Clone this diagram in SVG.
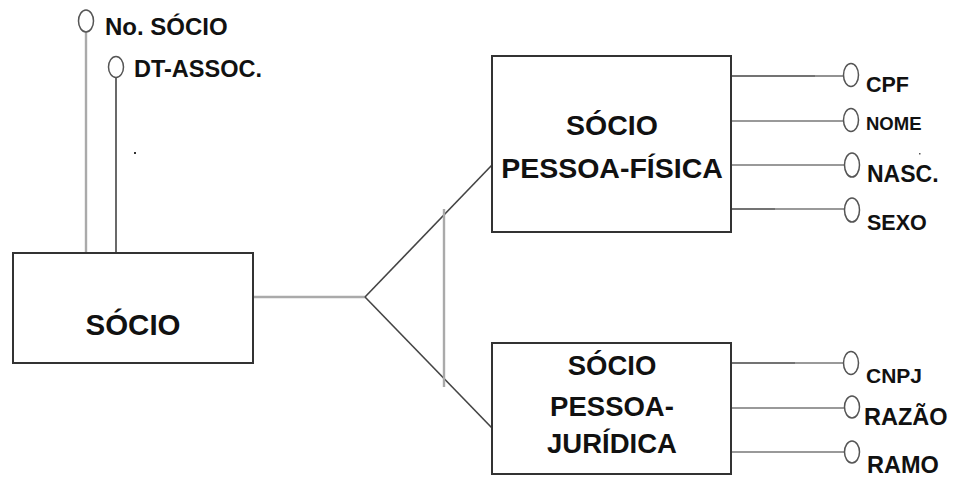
<svg xmlns="http://www.w3.org/2000/svg" width="958" height="477" viewBox="0 0 958 477">
<style>
.box{fill:#fff;stroke:#333;stroke-width:2}
.t{font-family:"Liberation Sans",Arial,sans-serif;font-weight:bold;fill:#111}
.c{text-anchor:middle}
.dk{stroke:#444;stroke-width:1.6;fill:none}
.lt{stroke:#aaa;stroke-width:2.4;fill:none}
.md{stroke:#777;stroke-width:1.6;fill:none}
.att{fill:#fff;stroke:#555;stroke-width:1.5}
</style>
<rect width="958" height="477" fill="#fff"/>
<g id="connectors">
<line class="lt" x1="86" y1="32" x2="86" y2="253"/>
<line class="dk" x1="116" y1="78" x2="116" y2="253"/>
<line class="lt" x1="253" y1="297" x2="365" y2="297"/>
<line class="dk" x1="365" y1="297" x2="492" y2="165"/>
<line class="dk" x1="365" y1="297" x2="492" y2="428"/>
<line class="lt" x1="444" y1="209" x2="444" y2="387"/>
<line class="dk" x1="731" y1="76" x2="815" y2="76"/><line class="md" x1="815" y1="76" x2="843" y2="76"/>
<line class="md" x1="731" y1="121" x2="843" y2="121"/>
<line class="md" x1="731" y1="165" x2="844" y2="165"/>
<line class="dk" x1="731" y1="209" x2="775" y2="209"/><line class="md" x1="775" y1="209" x2="844" y2="209"/>
<line class="dk" x1="731" y1="363" x2="795" y2="363"/><line class="md" x1="795" y1="363" x2="843" y2="363"/>
<line class="md" x1="731" y1="408" x2="844" y2="408"/>
<line class="md" x1="731" y1="452" x2="844" y2="452"/>
</g>
<g id="socio">
<rect class="box" x="13" y="253" width="240" height="110"/>
<text class="t c" x="133" y="335" font-size="29.5">SÓCIO</text>
</g>
<g id="socio-pf">
<rect class="box" x="492" y="56" width="239" height="176"/>
<text class="t c" x="612" y="135" font-size="28.5">SÓCIO</text>
<text class="t c" x="612" y="178" font-size="28.5">PESSOA-FÍSICA</text>
</g>
<g id="socio-pj">
<rect class="box" x="492" y="343" width="239" height="131"/>
<text class="t c" x="612" y="375" font-size="27.5">SÓCIO</text>
<text class="t c" x="612" y="416" font-size="27.5">PESSOA-</text>
<text class="t c" x="612" y="453" font-size="27.5">JURÍDICA</text>
</g>
<g id="attr-no-socio">
<ellipse class="att" cx="86" cy="21" rx="7.5" ry="11"/>
<text class="t" x="105" y="35" font-size="24">No. SÓCIO</text>
</g>
<g id="attr-dt-assoc">
<ellipse class="att" cx="116" cy="67" rx="7.5" ry="10.5"/>
<text class="t" x="134" y="77" font-size="23.5">DT-ASSOC.</text>
</g>
<g id="attr-cpf">
<ellipse class="att" cx="851" cy="75" rx="7.5" ry="11.5"/>
<text class="t" x="866" y="92" font-size="21.5">CPF</text>
</g>
<g id="attr-nome">
<ellipse class="att" cx="851" cy="120" rx="7.5" ry="11.5"/>
<text class="t" x="866" y="130" font-size="18.5">NOME</text>
</g>
<g id="attr-nasc">
<ellipse class="att" cx="852" cy="165" rx="7.5" ry="12"/>
<text class="t" x="867" y="182" font-size="23">NASC.</text>
</g>
<g id="attr-sexo">
<ellipse class="att" cx="852" cy="210" rx="7.5" ry="12"/>
<text class="t" x="867" y="230" font-size="21.5">SEXO</text>
</g>
<g id="attr-cnpj">
<ellipse class="att" cx="851" cy="363" rx="7.5" ry="11.5"/>
<text class="t" x="866" y="383" font-size="21">CNPJ</text>
</g>
<g id="attr-razao">
<ellipse class="att" cx="852" cy="407" rx="7.5" ry="11"/>
<text class="t" x="864" y="425" font-size="23.5">RAZÃO</text>
</g>
<g id="attr-ramo">
<ellipse class="att" cx="852" cy="452" rx="7.5" ry="11"/>
<text class="t" x="867" y="473" font-size="23.5">RAMO</text>
</g>
<rect x="134" y="152" width="2" height="2" fill="#333"/>
<rect x="919" y="153" width="1.5" height="1.5" fill="#555"/>
</svg>
